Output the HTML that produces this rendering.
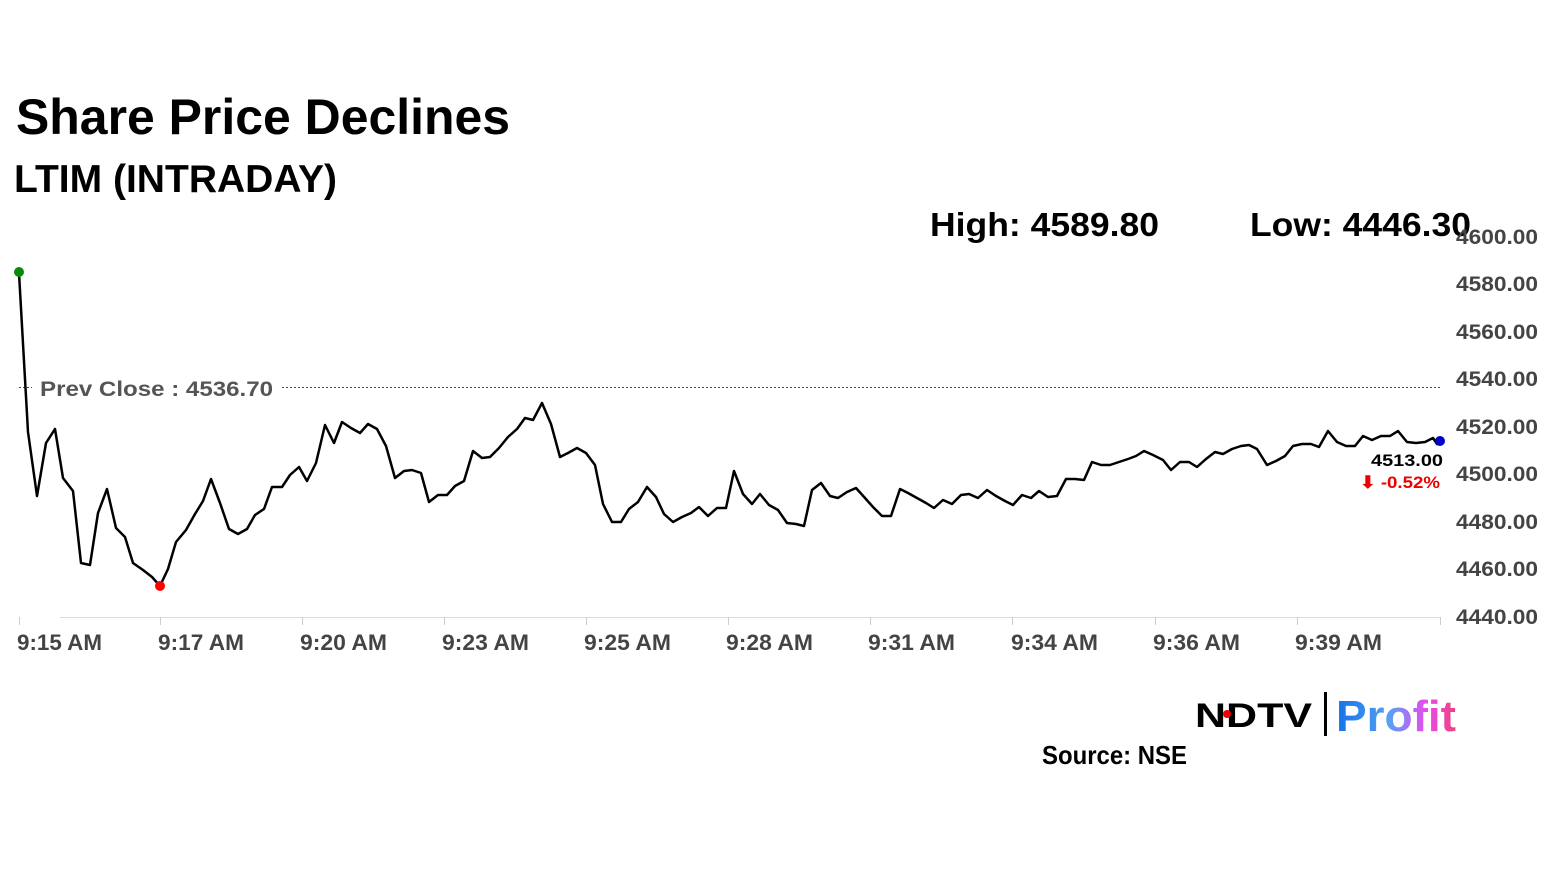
<!DOCTYPE html>
<html><head><meta charset="utf-8"><style>
html,body{margin:0;padding:0;background:#fff;}
svg{display:block;}
text{font-family:"Liberation Sans",Arial,sans-serif;font-weight:bold;}
</style></head><body>
<svg width="1555" height="874" viewBox="0 0 1555 874" xmlns="http://www.w3.org/2000/svg">
<defs>
<linearGradient id="pg" x1="0" x2="1" y1="0" y2="0">
<stop offset="0" stop-color="#1273e6"/><stop offset="0.45" stop-color="#5aa0f5"/><stop offset="0.75" stop-color="#e94bf0"/><stop offset="1" stop-color="#f0407a"/>
</linearGradient>
</defs>
<text x="16" y="134" font-size="50" fill="#000" textLength="494" lengthAdjust="spacingAndGlyphs">Share Price Declines</text>
<text x="14" y="192" font-size="39" fill="#000" textLength="323" lengthAdjust="spacingAndGlyphs">LTIM (INTRADAY)</text>
<text x="930" y="236" font-size="33" fill="#000" textLength="229" lengthAdjust="spacingAndGlyphs">High: 4589.80</text>
<text x="1250" y="236" font-size="33" fill="#000" textLength="221" lengthAdjust="spacingAndGlyphs">Low: 4446.30</text>

<g fill="#444" font-size="21">
<text x="1456" y="244" textLength="82" lengthAdjust="spacingAndGlyphs">4600.00</text>
<text x="1456" y="291" textLength="82" lengthAdjust="spacingAndGlyphs">4580.00</text>
<text x="1456" y="339" textLength="82" lengthAdjust="spacingAndGlyphs">4560.00</text>
<text x="1456" y="386" textLength="82" lengthAdjust="spacingAndGlyphs">4540.00</text>
<text x="1456" y="434" textLength="82" lengthAdjust="spacingAndGlyphs">4520.00</text>
<text x="1456" y="481" textLength="82" lengthAdjust="spacingAndGlyphs">4500.00</text>
<text x="1456" y="529" textLength="82" lengthAdjust="spacingAndGlyphs">4480.00</text>
<text x="1456" y="576" textLength="82" lengthAdjust="spacingAndGlyphs">4460.00</text>
<text x="1456" y="624" textLength="82" lengthAdjust="spacingAndGlyphs">4440.00</text>
</g>

<line x1="60" y1="617.5" x2="1440" y2="617.5" stroke="#ddd" stroke-width="1"/>
<g stroke="#ccc" stroke-width="1">
<line x1="19.5" y1="617" x2="19.5" y2="625"/><line x1="160.5" y1="617" x2="160.5" y2="625"/><line x1="302.5" y1="617" x2="302.5" y2="625"/><line x1="444.5" y1="617" x2="444.5" y2="625"/><line x1="586.5" y1="617" x2="586.5" y2="625"/><line x1="728.5" y1="617" x2="728.5" y2="625"/><line x1="870.5" y1="617" x2="870.5" y2="625"/><line x1="1012.5" y1="617" x2="1012.5" y2="625"/><line x1="1155.5" y1="617" x2="1155.5" y2="625"/><line x1="1297.5" y1="617" x2="1297.5" y2="625"/><line x1="1440.5" y1="617" x2="1440.5" y2="625"/>
</g>
<g fill="#444" font-size="22">
<text x="17" y="650" textLength="85" lengthAdjust="spacingAndGlyphs">9:15 AM</text>
<text x="158" y="650" textLength="86" lengthAdjust="spacingAndGlyphs">9:17 AM</text>
<text x="300" y="650" textLength="87" lengthAdjust="spacingAndGlyphs">9:20 AM</text>
<text x="442" y="650" textLength="87" lengthAdjust="spacingAndGlyphs">9:23 AM</text>
<text x="584" y="650" textLength="87" lengthAdjust="spacingAndGlyphs">9:25 AM</text>
<text x="726" y="650" textLength="87" lengthAdjust="spacingAndGlyphs">9:28 AM</text>
<text x="868" y="650" textLength="87" lengthAdjust="spacingAndGlyphs">9:31 AM</text>
<text x="1011" y="650" textLength="87" lengthAdjust="spacingAndGlyphs">9:34 AM</text>
<text x="1153" y="650" textLength="87" lengthAdjust="spacingAndGlyphs">9:36 AM</text>
<text x="1295" y="650" textLength="87" lengthAdjust="spacingAndGlyphs">9:39 AM</text>
</g>

<line x1="19" y1="387.5" x2="32" y2="387.5" stroke="#f00" stroke-width="1" stroke-dasharray="2,2"/>
<line x1="282" y1="387.5" x2="1440" y2="387.5" stroke="#f00" stroke-width="1" stroke-dasharray="2,2"/>
<text x="40" y="396" font-size="21" fill="#555" textLength="233" lengthAdjust="spacingAndGlyphs">Prev Close : 4536.70</text>

<polyline fill="none" stroke="#000" stroke-width="2.5" stroke-linejoin="round" points="19,273 28,432 37,496 46,443 55,429 63,478 73,491 81,563 90,565 98,513 107,489 116,528 125,537 133,563 143,570 152,577 160,586 168,569 176,542 186,530 195,514 203,501 211,479 220,503 229,529 238,534 247,529 255,515 264,509 272,487 282,487 290,475 299,467 307,481 316,463 325,425 334,443 342,422 351,428 360,433 368,424 377,429 386,446 395,478 404,471 412,470 421,473 429,502 438,495 447,495 455,486 464,481 473,451 482,458 490,457 499,448 508,437 517,429 525,418 533,420 542,403 551,424 560,457 568,453 577,448 586,453 595,465 603,504 612,522 621,522 629,509 638,502 647,487 656,497 664,514 673,522 682,517 691,513 699,507 708,516 717,508 726,508 734,471 743,494 752,504 760,494 769,505 778,510 787,523 796,524 804,526 812,490 821,483 830,496 838,498 847,492 856,488 865,498 873,507 882,516 891,516 900,489 908,493 917,498 926,503 934,508 943,500 952,504 961,495 969,494 978,498 987,490 996,496 1005,501 1013,505 1022,495 1031,498 1039,491 1048,497 1057,496 1066,479 1075,479 1084,480 1092,462 1101,465 1110,465 1119,462 1128,459 1136,456 1144,451 1153,455 1163,460 1171,470 1180,462 1189,462 1197,467 1206,459 1215,452 1223,454 1232,449 1241,446 1249,445 1257,449 1267,465 1276,461 1285,456 1293,446 1302,444 1311,444 1319,447 1328,431 1337,442 1346,446 1355,446 1363,436 1372,440 1381,436 1390,436 1398,431 1407,442 1416,443 1425,442 1433,438 1437,444 1440,441"/>
<circle cx="19" cy="272" r="5" fill="#0a8a0a"/>
<circle cx="160" cy="586" r="5" fill="#f00"/>
<circle cx="1440" cy="441" r="5" fill="#0000cc"/>

<text x="1371" y="466" font-size="17" fill="#000" textLength="72" lengthAdjust="spacingAndGlyphs">4513.00</text>
<text x="1360" y="488" font-size="17" fill="#e00" textLength="80" lengthAdjust="spacingAndGlyphs">⬇ -0.52%</text>

<text x="1195" y="727" font-size="34" fill="#000" textLength="117" lengthAdjust="spacingAndGlyphs" font-family="'DejaVu Sans',sans-serif">NDTV</text>
<circle cx="1227" cy="714" r="4" fill="#e00"/>
<rect x="1324" y="692" width="3" height="44" fill="#000"/>
<text x="1336" y="731" font-size="44" fill="url(#pg)" textLength="120" lengthAdjust="spacingAndGlyphs">Profit</text>

<text x="1042" y="764" font-size="26" fill="#000" textLength="145" lengthAdjust="spacingAndGlyphs">Source: NSE</text>
</svg>
</body></html>
